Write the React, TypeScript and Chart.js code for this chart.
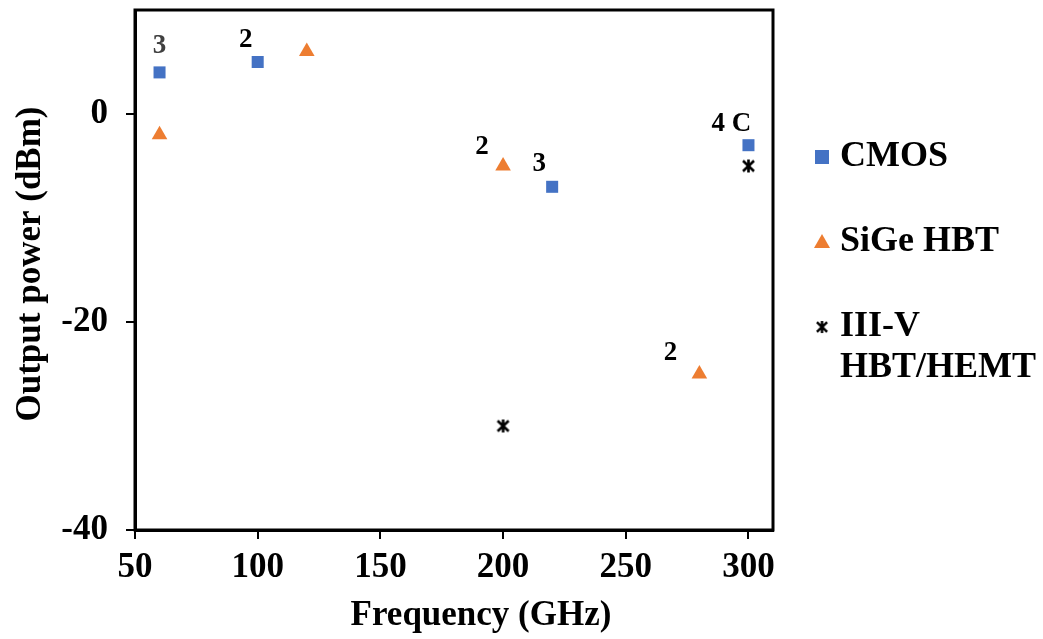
import React, { useEffect, useRef } from "react";
import { Chart, registerables } from "chart.js";

Chart.register(...registerables);

const cmosFreq = [60, 100, 220, 300];
const cmosPower = [4, 5, -7, -3];
const sigeFreq = [60, 120, 200, 280];
const sigePower = [-2, 6, -5, -25];
const iiivFreq = [200, 300];
const iiivPower = [-30, -5];

const xTicks = [50, 100, 150, 200, 250, 300];
const yTicks = [-40, -20, 0];

const seriesNames = ["CMOS", "SiGe HBT", "III-V\nHBT/HEMT"];

// point annotations: dataset index, point index, text, colour, offset from point
const annotations = [
  { ds: 0, i: 0, text: "3", color: "#404040", dx: 0, dy: -26 },
  { ds: 0, i: 1, text: "2", color: "#000000", dx: -12, dy: -22 },
  { ds: 1, i: 2, text: "2", color: "#000000", dx: -21, dy: -19 },
  { ds: 0, i: 2, text: "3", color: "#000000", dx: -13, dy: -23 },
  { ds: 0, i: 3, text: "4 C", color: "#000000", dx: -17, dy: -21 },
  { ds: 1, i: 3, text: "2", color: "#000000", dx: -29, dy: -21 },
];

const FONT = "'Liberation Serif', 'Times New Roman', serif";
const BLUE = "#4472C4";
const ORANGE = "#ED7D31";

function makeStar(size: number): HTMLCanvasElement {
  const c = document.createElement("canvas");
  c.width = size;
  c.height = size;
  const g = c.getContext("2d")!;
  g.strokeStyle = "#000";
  g.lineWidth = 2.6;
  g.lineCap = "butt";
  const m = size / 2;
  const r = size / 2 - 1;
  g.beginPath();
  g.moveTo(m, m - r);
  g.lineTo(m, m + r);
  g.moveTo(m - r * 0.85, m - r * 0.8);
  g.lineTo(m + r * 0.85, m + r * 0.8);
  g.moveTo(m + r * 0.85, m - r * 0.8);
  g.lineTo(m - r * 0.85, m + r * 0.8);
  g.stroke();
  return c;
}

export default function App() {
  const ref = useRef<HTMLCanvasElement>(null);
  useEffect(() => {
    document.body.style.margin = "0";
    const star = makeStar(15);

    const framePlugin = {
      id: "frame",
      afterDraw(chart: any) {
        const { ctx, chartArea: a } = chart;
        ctx.save();
        ctx.strokeStyle = "#000";
        ctx.lineWidth = 3;
        ctx.strokeRect(a.left, a.top, a.right - a.left, a.bottom - a.top);

        // annotations
        ctx.font = `bold 27px ${FONT}`;
        ctx.textAlign = "center";
        ctx.textBaseline = "middle";
        annotations.forEach((an) => {
          const meta = chart.getDatasetMeta(an.ds);
          const el = meta.data[an.i];
          ctx.fillStyle = an.color;
          ctx.fillText(an.text, el.x + an.dx, el.y + an.dy);
        });

        // axis titles
        ctx.fillStyle = "#000";
        ctx.font = `bold 35px ${FONT}`;
        ctx.textAlign = "center";
        ctx.textBaseline = "middle";
        ctx.fillText("Frequency (GHz)", 481, 616);
        ctx.save();
        ctx.translate(31, 264);
        ctx.rotate(-Math.PI / 2);
        ctx.fillText("Output power (dBm)", 0, 0);
        ctx.restore();

        // legend
        const lx = 822;
        const ys = [157, 242, 327];
        ctx.fillStyle = BLUE;
        ctx.fillRect(lx - 7, ys[0] - 7, 14, 14);
        ctx.fillStyle = ORANGE;
        ctx.beginPath();
        ctx.moveTo(lx, ys[1] - 8);
        ctx.lineTo(lx + 8, ys[1] + 6);
        ctx.lineTo(lx - 8, ys[1] + 6);
        ctx.closePath();
        ctx.fill();
        ctx.drawImage(star, lx - 7, ys[2] - 7, 14, 14);
        ctx.fillStyle = "#000";
        ctx.textAlign = "left";
        ctx.font = `bold 36px ${FONT}`;
        seriesNames.forEach((name, k) => {
          const lines = name.split("\n");
          lines.forEach((ln, j) => {
            ctx.fillText(ln, 840, ys[k] + j * 41);
          });
        });
        ctx.restore();
      },
    };

    const chart = new Chart(ref.current!, {
      type: "scatter",
      data: {
        datasets: [
          {
            label: "CMOS",
            data: cmosFreq.map((x, i) => ({ x, y: cmosPower[i] })),
            pointStyle: "rect",
            pointRadius: 8.5,
            backgroundColor: BLUE,
            borderColor: BLUE,
            borderWidth: 0,
          },
          {
            label: "SiGe HBT",
            data: sigeFreq.map((x, i) => ({ x, y: sigePower[i] })),
            pointStyle: "triangle",
            pointRadius: 9,
            backgroundColor: ORANGE,
            borderColor: ORANGE,
            borderWidth: 0,
          },
          {
            label: "III-V HBT/HEMT",
            data: iiivFreq.map((x, i) => ({ x, y: iiivPower[i] })),
            pointStyle: star as any,
            pointRadius: 7,
          },
        ],
      },
      options: {
        responsive: false,
        animation: false,
        devicePixelRatio: 1,
        layout: { padding: { left: 0, top: 10, right: 1043 - 773, bottom: 0 } },
        plugins: {
          legend: { display: false },
          tooltip: { enabled: false },
        },
        scales: {
          x: {
            type: "linear",
            min: 50,
            max: 310,
            afterBuildTicks: (s: any) => {
              s.ticks = xTicks.map((v) => ({ value: v }));
            },
            afterFit: (s: any) => {
              s.height = 639 - 530;
              s.paddingLeft = 0;
              s.paddingRight = 0;
            },
            grid: {
              drawOnChartArea: false,
              drawTicks: true,
              tickLength: 9,
              color: "#000",
              lineWidth: 2,
            },
            border: { display: true, color: "#000", width: 3 },
            ticks: {
              color: "#000",
              font: { family: FONT, size: 35, weight: "bold" },
              padding: 8,
              maxRotation: 0,
              autoSkip: false,
            },
          },
          y: {
            type: "linear",
            min: -40,
            max: 10,
            afterBuildTicks: (s: any) => {
              s.ticks = yTicks.map((v) => ({ value: v }));
            },
            afterFit: (s: any) => {
              s.width = 135;
              s.paddingTop = 0;
              s.paddingBottom = 0;
            },
            grid: {
              drawOnChartArea: false,
              drawTicks: true,
              tickLength: 9,
              color: "#000",
              lineWidth: 2,
            },
            border: { display: true, color: "#000", width: 3 },
            ticks: {
              color: "#000",
              font: { family: FONT, size: 35, weight: "bold" },
              padding: 18,
              autoSkip: false,
            },
          },
        },
      },
      plugins: [framePlugin],
    });
    return () => chart.destroy();
  }, []);
  return <canvas ref={ref} width={1043} height={639} style={{ display: "block" }} />;
}
